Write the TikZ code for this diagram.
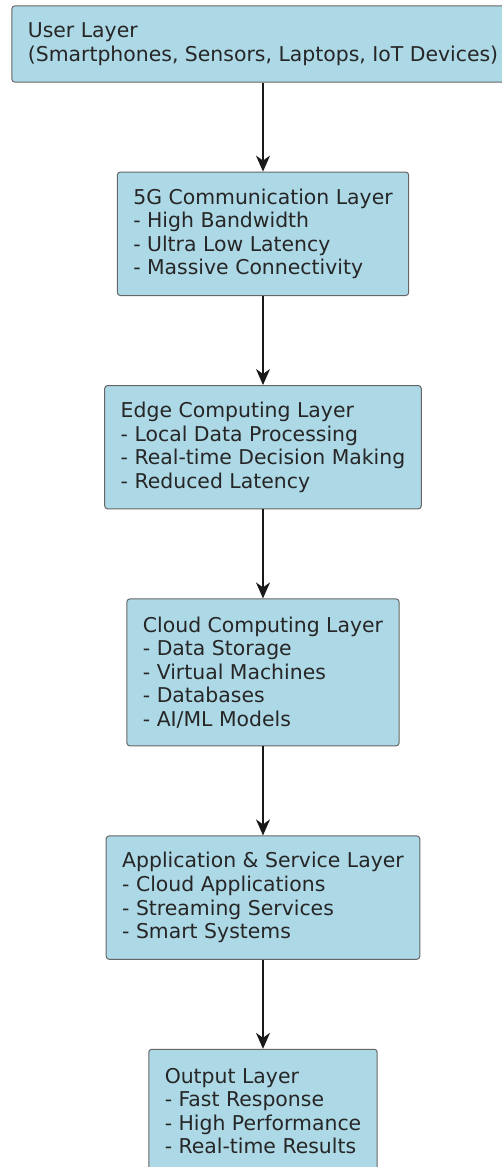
\documentclass[tikz,border=0pt]{standalone}
\usepackage{fontspec}
\setmainfont{DejaVu Sans}
\usetikzlibrary{positioning,arrows.meta}
\definecolor{layerblue}{HTML}{ADD8E6}
\tikzstyle{layer box}=[draw=black!60,fill=layerblue,line width=1pt,
    rounded corners=3pt,align=left,inner xsep=16pt,inner ysep=0pt,
    text=black!85,font=\fontsize{20.4}{23.6}\selectfont]
\tikzstyle{flow}=[-{Stealth[length=16pt,width=14pt,inset=5pt]},
    line width=1.3pt,color=black!90]
\newcommand{\layerbox}[4][]{
    \node[layer box,minimum height={23.6*#2+29},#1] (#3) {#4};
}
\newcommand{\flow}[2]{\draw[flow] (#1)--(#2);}

\begin{document}
\begin{tikzpicture}[x=1pt,y=1pt,node distance=89pt]
    \useasboundingbox (0,0) rectangle (502,-1167);
    \layerbox[at={(263,-44)}]{2}{user}{User Layer\\(Smartphones, Sensors, Laptops, IoT Devices)}
    \layerbox[below=of user]{4}{comm}{5G Communication Layer\\- High Bandwidth\\- Ultra Low Latency\\- Massive Connectivity}
    \layerbox[below=of comm]{4}{edge}{Edge Computing Layer\\- Local Data Processing\\- Real-time Decision Making\\- Reduced Latency}
    \layerbox[below=of edge]{5}{cloud}{Cloud Computing Layer\\- Data Storage\\- Virtual Machines\\- Databases\\- AI/ML Models}
    \layerbox[below=of cloud]{4}{app}{Application \& Service Layer\\- Cloud Applications\\- Streaming Services\\- Smart Systems}
    \layerbox[below=of app]{4}{output}{Output Layer\\- Fast Response\\- High Performance\\- Real-time Results}

    \flow{user}{comm}
    \flow{comm}{edge}
    \flow{edge}{cloud}
    \flow{cloud}{app}
    \flow{app}{output}
\end{tikzpicture}
\end{document}
